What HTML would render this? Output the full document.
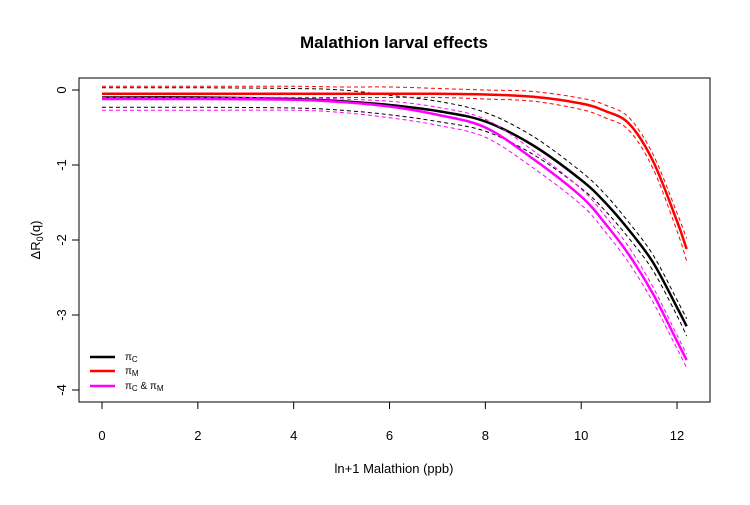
<!DOCTYPE html>
<html><head><meta charset="utf-8"><style>
body{margin:0;background:#fff}
svg text{font-family:"Liberation Sans",Arial,sans-serif}
</style></head><body>
<svg id="chart" width="750" height="500" viewBox="0 0 750 500"></svg>
<script>
const xs=[0,2,4,5,6,7,8,9,10,10.5,11,11.5,12,12.2];
const blackMean=[-0.1,-0.1,-0.12,-0.15,-0.2,-0.28,-0.42,-0.74,-1.2,-1.5,-1.87,-2.3,-2.9,-3.15];
const blackUpper=[0.03,0.03,0.02,0,-0.07,-0.15,-0.3,-0.62,-1.09,-1.39,-1.77,-2.2,-2.8,-3.05];
const blackLower=[-0.23,-0.23,-0.24,-0.27,-0.33,-0.42,-0.55,-0.86,-1.31,-1.61,-1.98,-2.41,-3.01,-3.28];
const magMean=[-0.12,-0.12,-0.13,-0.16,-0.22,-0.33,-0.5,-0.92,-1.42,-1.78,-2.2,-2.72,-3.35,-3.6];
const magUpper=[-0.1,-0.1,-0.1,-0.12,-0.15,-0.23,-0.39,-0.81,-1.32,-1.68,-2.1,-2.63,-3.27,-3.52];
const magLower=[-0.27,-0.27,-0.27,-0.3,-0.37,-0.47,-0.63,-1.04,-1.53,-1.89,-2.31,-2.83,-3.45,-3.7];
const redMean=[-0.05,-0.05,-0.05,-0.05,-0.05,-0.05,-0.06,-0.09,-0.18,-0.28,-0.45,-0.95,-1.75,-2.12];
const redUpper=[0.05,0.05,0.05,0.04,0.04,0.02,0,-0.02,-0.11,-0.2,-0.37,-0.86,-1.64,-1.98];
const redLower=[-0.1,-0.1,-0.1,-0.1,-0.1,-0.1,-0.12,-0.15,-0.26,-0.37,-0.54,-1.05,-1.88,-2.28];
const xTicks=[0,2,4,6,8,10,12];
const yTicks=[0,-1,-2,-3,-4];

const svg=document.getElementById('chart');
const NS='http://www.w3.org/2000/svg';
const X=v=>102+v*47.92;
const Y=v=>90-v*75;
function mk(tag,attrs,parent){const e=document.createElementNS(NS,tag);for(const k in attrs)e.setAttribute(k,attrs[k]);(parent||svg).appendChild(e);return e;}
function pathD(vals){
  const p=xs.map((x,i)=>[X(x),Y(vals[i])]);
  let d='M'+p[0][0]+','+p[0][1];
  for(let i=0;i<p.length-1;i++){
    const p0=p[Math.max(0,i-1)],p1=p[i],p2=p[i+1],p3=p[Math.min(p.length-1,i+2)];
    const c1=[p1[0]+(p2[0]-p0[0])/6,p1[1]+(p2[1]-p0[1])/6];
    const c2=[p2[0]-(p3[0]-p1[0])/6,p2[1]-(p3[1]-p1[1])/6];
    d+=' C'+c1+' '+c2+' '+p2;
  }
  return d;
}
let e=mk('rect',{x:79,y:78,width:631,height:324,fill:'none',stroke:'#000','stroke-width':1});

xTicks.forEach(t=>{
  let l=mk('line',{x1:X(t),x2:X(t),y1:402,y2:409,stroke:'#000'});
  
  let tx=mk('text',{x:X(t),y:440,'font-size':13,'text-anchor':'middle'});tx.textContent=t;
  
});
yTicks.forEach(t=>{
  let l=mk('line',{x1:72,x2:79,y1:Y(t),y2:Y(t),stroke:'#000'});
  
  let tx=mk('text',{x:0,y:0,'font-size':13,'text-anchor':'middle',transform:'translate(66,'+Y(t)+') rotate(-90)'});tx.textContent=t;
  
});
const series=[
 ['black',blackMean,blackUpper,blackLower,'#000'],
 ['red',redMean,redUpper,redLower,'#f00'],
 ['magenta',magMean,magUpper,magLower,'#f0f']];
series.forEach(s=>{
  [s[2],s[3]].forEach((b,j)=>{
    let p=mk('path',{d:pathD(b),fill:'none',stroke:s[4],'stroke-width':1,'stroke-dasharray':'4,3'});
    
  });
  let p=mk('path',{d:pathD(s[1]),fill:'none',stroke:s[4],'stroke-width':2.5});
  
});
</script>
<svg style="position:absolute;left:0;top:0" width="750" height="500">
<text x="394" y="48" font-size="17" font-weight="bold" text-anchor="middle">Malathion larval effects</text>
<text x="394" y="473" font-size="13" text-anchor="middle">ln+1 Malathion (ppb)</text>
<text transform="translate(40,240) rotate(-90)" font-size="13" text-anchor="middle">ΔR<tspan font-size="9" dy="3">0</tspan><tspan dy="-3">(q)</tspan></text>
<g font-size="10">
<line x1="90" y1="357" x2="115" y2="357" stroke="#000" stroke-width="2.5"/>
<text x="125" y="360">π<tspan font-size="8" dy="2">C</tspan></text>
<line x1="90" y1="371" x2="115" y2="371" stroke="#f00" stroke-width="2.5"/>
<text x="125" y="374">π<tspan font-size="8" dy="2">M</tspan></text>
<line x1="90" y1="386" x2="115" y2="386" stroke="#f0f" stroke-width="2.5"/>
<text x="125" y="389">π<tspan font-size="8" dy="2">C</tspan><tspan dy="-2"> &amp; π</tspan><tspan font-size="8" dy="2">M</tspan></text>
</g>
</svg>
</body></html>
